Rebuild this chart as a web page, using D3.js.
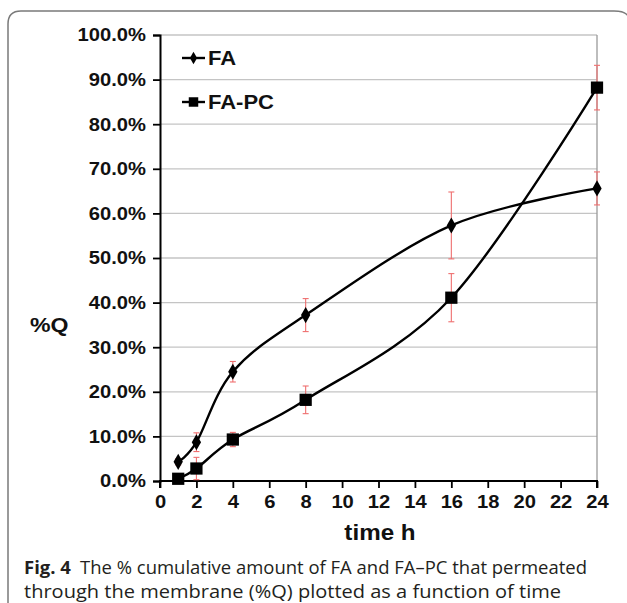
<!DOCTYPE html>
<html>
<head>
<meta charset="utf-8">
<script src="https://cdn.jsdelivr.net/npm/d3@7"></script>
<style>
  body { margin: 0; background: #fff; }
  svg { display: block; }
</style>
</head>
<body>
<svg id="chart" width="627" height="603"></svg>
<script>
// time points (h)
const times = [1, 2, 4, 8, 16, 24];
// %Q values
const faValues = [4.3, 8.7, 24.5, 37.2, 57.3, 65.6];
const faErrors = [0.7, 2.1, 2.3, 3.7, 7.5, 3.7];
const fapcValues = [0.5, 2.8, 9.3, 18.2, 41.1, 88.2];
const fapcErrors = [0.4, 2.5, 1.6, 3.1, 5.4, 5.0];
const seriesNames = ["FA", "FA-PC"];
const xTicks = [0, 2, 4, 6, 8, 10, 12, 14, 16, 18, 20, 22, 24];
const yTicks = [0, 10, 20, 30, 40, 50, 60, 70, 80, 90, 100];

const svg = d3.select("#chart");
const chartFont = "Liberation Sans, Arial, sans-serif";

// the chart's text in the figure is a little wider than plain Arial
function widen(sel, k) {
  sel.each(function() {
    const len = this.getComputedTextLength();
    d3.select(this).attr("textLength", len * k).attr("lengthAdjust", "spacingAndGlyphs");
  });
}

// outer frame (top + left, rounded corners)
svg.append("path")
  .attr("d", "M8,603 L8,24 Q8,11 21,11 L614,11 Q625,11 628,16")
  .attr("fill", "none")
  .attr("stroke", "#7a7a7a")
  .attr("stroke-width", 1.5);

const x = d3.scaleLinear().domain([0, 24]).range([160, 597]);
const y = d3.scaleLinear().domain([0, 100]).range([481, 35]);

const g = svg.append("g");

// gridlines
g.selectAll("line.grid")
  .data(yTicks.slice(1))
  .join("line")
  .attr("x1", x(0)).attr("x2", x(24))
  .attr("y1", d => y(d)).attr("y2", d => y(d))
  .attr("stroke", "#c4c4c4").attr("stroke-width", 1.3);

// right border of plot area
g.append("line")
  .attr("x1", x(24)).attr("x2", x(24))
  .attr("y1", y(0)).attr("y2", y(100))
  .attr("stroke", "#9a9a9a").attr("stroke-width", 1.3);

// axes
const yAxis = d3.axisLeft(y).tickValues(yTicks).tickSize(7).tickPadding(7)
  .tickFormat(d => d.toFixed(1) + "%");
const xAxis = d3.axisBottom(x).tickValues(xTicks).tickSize(7).tickPadding(7);

const ya = g.append("g").attr("transform", `translate(${x(0)},0)`).call(yAxis);
const xa = g.append("g").attr("transform", `translate(0,${y(0)})`).call(xAxis);
[ya, xa].forEach(a => {
  a.select(".domain").attr("stroke", "#000").attr("stroke-width", 2);
  a.selectAll(".tick line").attr("stroke", "#000").attr("stroke-width", 1.8);
  a.selectAll("text")
    .attr("font-family", chartFont)
    .attr("font-weight", "bold")
    .attr("font-size", 18.5)
    .attr("fill", "#111");
  widen(a.selectAll("text"), 1.09);
});
xa.select(".domain").attr("d", `M${x(0)},7V0H${x(24)}V7`);

// axis titles
const yTitle = svg.append("text")
  .attr("x", 30).attr("y", 332)
  .attr("font-family", chartFont)
  .attr("font-weight", "bold").attr("font-size", 21)
  .attr("fill", "#111")
  .text("%Q");
const xTitle = svg.append("text")
  .attr("x", 380).attr("y", 540)
  .attr("text-anchor", "middle")
  .attr("font-family", chartFont)
  .attr("font-weight", "bold").attr("font-size", 22)
  .attr("fill", "#111")
  .text("time h");
widen(yTitle, 1.1);
widen(xTitle, 1.1);

const series = [
  { name: seriesNames[0], values: faValues, errors: faErrors, shape: d3.symbolDiamond, size: 75 },
  { name: seriesNames[1], values: fapcValues, errors: fapcErrors, shape: d3.symbolSquare, size: 150 }
];

const line = d3.line()
  .x(d => x(d.t)).y(d => y(d.v))
  .curve(d3.curveCardinal.tension(0));

series.forEach(s => {
  const pts = times.map((t, i) => ({ t: t, v: s.values[i], e: s.errors[i] }));

  // error bars
  const eb = g.append("g").attr("stroke", "#ef6f6f").attr("stroke-width", 1.1);
  eb.selectAll("line.v").data(pts).join("line")
    .attr("x1", d => x(d.t)).attr("x2", d => x(d.t))
    .attr("y1", d => y(d.v - d.e)).attr("y2", d => y(d.v + d.e));
  eb.selectAll("line.lo").data(pts).join("line")
    .attr("x1", d => x(d.t) - 3).attr("x2", d => x(d.t) + 3)
    .attr("y1", d => y(d.v - d.e)).attr("y2", d => y(d.v - d.e));
  eb.selectAll("line.hi").data(pts).join("line")
    .attr("x1", d => x(d.t) - 3).attr("x2", d => x(d.t) + 3)
    .attr("y1", d => y(d.v + d.e)).attr("y2", d => y(d.v + d.e));

  g.append("path")
    .datum(pts)
    .attr("d", line)
    .attr("fill", "none")
    .attr("stroke", "#000")
    .attr("stroke-width", 2.4);

  g.selectAll(null).data(pts).join("path")
    .attr("transform", d => `translate(${x(d.t)},${y(d.v)})`)
    .attr("d", d3.symbol().type(s.shape).size(s.size))
    .attr("fill", "#000");
});

// legend
const legend = svg.append("g");
series.forEach((s, i) => {
  const ly = 58 + i * 44;
  legend.append("line")
    .attr("x1", 182).attr("x2", 205).attr("y1", ly).attr("y2", ly)
    .attr("stroke", "#000").attr("stroke-width", 2.4);
  legend.append("path")
    .attr("transform", `translate(193.5,${ly})`)
    .attr("d", d3.symbol().type(s.shape).size(s.size * 0.6))
    .attr("fill", "#000");
  const lt = legend.append("text")
    .attr("x", 208).attr("y", ly + 7)
    .attr("font-family", chartFont)
    .attr("font-weight", "bold").attr("font-size", 20)
    .attr("fill", "#111")
    .text(s.name);
  widen(lt, 1.1);
});

// caption
const cap = svg.append("g")
  .attr("font-family", "Open Sans, Noto Sans, sans-serif")
  .attr("font-size", 18)
  .attr("fill", "#231f20");
const l1 = cap.append("text").attr("x", 24).attr("y", 574)
  .attr("textLength", 563).attr("lengthAdjust", "spacingAndGlyphs");
l1.append("tspan").attr("font-weight", "bold").text("Fig. 4");
l1.append("tspan").text("\u2002The % cumulative amount of FA and FA\u2013PC that permeated");
cap.append("text").attr("x", 24).attr("y", 598)
  .attr("textLength", 537).attr("lengthAdjust", "spacingAndGlyphs")
  .text("through the membrane (%Q) plotted as a function of time");
</script>
</body>
</html>
